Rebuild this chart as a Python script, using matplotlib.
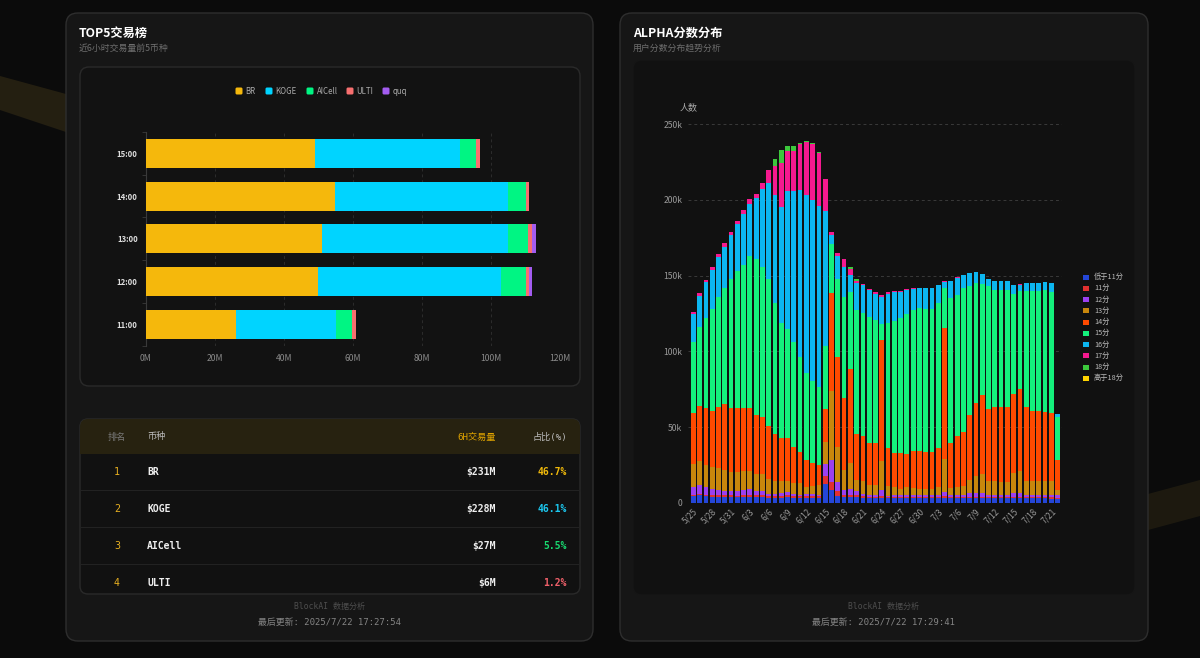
import numpy as np
import pandas as pd
import matplotlib
matplotlib.use("Agg")
import matplotlib.pyplot as plt
from matplotlib.patches import FancyBboxPatch, Rectangle, Polygon

plt.rcParams['font.family'] = ['Noto Sans CJK SC', 'DejaVu Sans']
MONO = ['DejaVu Sans Mono', 'Noto Sans CJK SC']

# ---- TOP5 data (M) ----
hours = ['11:00', '12:00', '13:00', '14:00', '15:00']
coins = ['BR', 'KOGE', 'AICell', 'ULTI', 'quq']
coin_colors = ['#f5b80c', '#00d4ff', '#00f583', '#f76f6f', '#a35cf0']
br = [26.0, 49.9, 50.9, 54.9, 49.0]
koge = [29.0, 53.0, 54.1, 50.1, 42.0]
aicell = [4.8, 7.2, 5.8, 5.1, 4.6]
ulti = [1.1, 0.8, 1.0, 0.8, 1.2]
quq = [0.0, 1.1, 1.2, 0.0, 0.0]
xticks_m = [0, 20, 40, 60, 80, 100, 120]

# ---- table ----
ranks = ['1', '2', '3', '4']
tbl_names = ['BR', 'KOGE', 'AICell', 'ULTI']
tbl_vol = ['$231M', '$228M', '$27M', '$6M']
tbl_pct = ['46.7%', '46.1%', '5.5%', '1.2%']
pct_colors = ['#f0b90b', '#1cc8f0', '#18d970', '#f0606a']

# ---- ALPHA score distribution (thousands of people) ----
dates = [f'{d.month}/{d.day}' for d in pd.date_range('2025-05-25', '2025-07-22')]
lt11 = [4.4, 5.0, 4.4, 4.0, 4.0, 3.8, 3.8, 3.8, 4.2, 4.2,
        3.8, 3.8, 3.5, 3.5, 3.5, 3.8, 3.5, 3.5, 3.5, 3.5,
        3.5, 12.5, 8.8, 4.8, 4.0, 4.0, 3.8, 3.5, 3.2, 3.2,
        3.5, 3.0, 3.0, 3.0, 3.0, 3.0, 3.0, 3.0, 3.0, 3.0,
        3.5, 3.0, 3.0, 3.0, 3.0, 3.0, 3.0, 3.0, 3.0, 3.0,
        3.0, 3.0, 3.0, 3.0, 3.0, 3.0, 3.0, 2.8, 2.5]
s11 = [1.1, 1.2, 1.2, 1.2, 1.2, 1.2, 1.2, 1.0, 1.2, 1.2,
       1.2, 1.2, 1.0, 1.0, 1.0, 1.2, 1.0, 1.0, 1.0, 1.0,
       1.0, 5.0, 5.2, 2.9, 1.5, 1.5, 1.2, 1.0, 1.0, 1.0,
       1.0, 1.0, 1.0, 1.0, 1.0, 1.0, 1.0, 1.0, 1.0, 1.0,
       1.0, 1.0, 1.0, 1.0, 1.0, 1.0, 1.0, 1.0, 1.0, 1.0,
       1.0, 1.0, 1.0, 1.0, 1.0, 1.0, 1.0, 1.0, 0.7]
s12 = [4.8, 5.6, 5.2, 4.0, 3.6, 2.7, 2.7, 2.9, 3.4, 3.8,
       2.7, 2.7, 1.7, 1.7, 2.1, 2.0, 1.7, 1.0, 1.7, 1.7,
       1.0, 8.5, 14.4, 5.9, 3.3, 4.0, 2.7, 1.7, 1.3, 1.3,
       4.3, 0.8, 1.0, 1.0, 1.0, 1.0, 1.0, 1.0, 1.0, 1.0,
       3.0, 1.0, 1.0, 1.5, 2.6, 2.6, 2.6, 1.5, 1.5, 1.5,
       1.5, 2.6, 2.6, 1.5, 1.5, 1.5, 1.5, 1.7, 1.8]
s13 = [15.7, 16.0, 14.2, 14.3, 14.0, 14.0, 12.9, 12.9, 12.2, 11.8,
       11.3, 11.1, 9.6, 8.1, 7.7, 7.7, 7.0, 7.7, 4.1, 4.8,
       6.5, 14.4, 45.2, 23.6, 13.0, 17.1, 7.7, 8.1, 6.5, 6.5,
       19.0, 6.2, 5.3, 4.5, 5.3, 4.9, 4.2, 4.5, 4.5, 5.3,
       21.5, 4.9, 5.3, 5.9, 8.8, 11.0, 12.5, 8.8, 8.8, 8.3,
       8.3, 13.2, 14.7, 8.8, 8.8, 8.8, 8.8, 8.8, 3.5]
s14 = [33.3, 36.2, 37.5, 37.5, 40.2, 43.8, 41.9, 41.9, 41.5, 41.5,
       39.0, 37.7, 35.2, 31.4, 28.7, 28.3, 23.8, 20.3, 18.2, 15.2,
       13.2, 21.5, 64.7, 59.3, 47.2, 61.7, 30.3, 29.7, 27.6, 27.6,
       79.7, 25.0, 22.5, 23.3, 22.1, 24.1, 24.8, 24.0, 24.0, 25.7,
       86.7, 29.7, 33.7, 35.6, 42.6, 48.1, 52.1, 47.5, 49.2, 49.4,
       49.8, 52.0, 53.6, 49.3, 46.7, 46.4, 45.9, 45.0, 20.0]
s15 = [46.7, 52.0, 59.5, 67.0, 73.0, 76.5, 85.5, 90.5, 94.5, 100.5,
       103.0, 99.0, 97.0, 86.3, 76.0, 72.0, 69.4, 62.8, 57.5, 54.6,
       51.5, 41.7, 32.7, 51.5, 67.0, 51.1, 81.3, 81.5, 83.4, 81.1,
       10.5, 82.9, 87.2, 89.0, 92.6, 93.0, 94.4, 94.5, 94.5, 95.7,
       26.3, 95.4, 93.0, 94.6, 85.0, 79.6, 73.4, 81.2, 77.0, 77.5,
       76.9, 65.9, 64.9, 76.4, 79.0, 79.3, 80.3, 80.2, 28.5]
s16 = [18.6, 20.6, 23.6, 26.0, 26.0, 27.0, 29.0, 31.0, 33.6, 34.3,
       40.0, 51.5, 63.0, 71.0, 76.5, 91.0, 99.6, 110.2, 117.0, 119.2,
       119.3, 89.2, 6.0, 15.0, 19.5, 11.2, 18.0, 18.0, 17.5, 17.3,
       18.0, 19.1, 19.0, 17.7, 15.5, 14.0, 13.1, 13.5, 13.5, 11.8,
       4.0, 11.2, 11.5, 8.6, 8.8, 7.2, 6.2, 4.8, 5.7, 5.5,
       5.7, 6.0, 4.3, 5.2, 5.2, 5.2, 5.4, 5.4, 1.6]
s17 = [1.6, 1.7, 1.7, 2.0, 2.0, 2.3, 2.0, 2.0, 2.4, 3.0,
       2.8, 3.8, 8.6, 19.3, 28.5, 26.4, 26.4, 30.5, 35.3, 37.0,
       35.0, 21.2, 1.5, 2.0, 5.5, 3.9, 1.5, 1.0, 0.8, 1.0,
       1.0, 1.0, 0.6, 0.5, 0.5, 0.5, 0.5, 0.5, 0.5, 0.5,
       0.5, 0.4, 0.3, 0.3, 0.2, 0.2, 0.2, 0.2, 0.2, 0.2,
       0.2, 0.2, 0.2, 0.2, 0.2, 0.2, 0.2, 0.2, 0.1]
s18 = [0, 0, 0, 0, 0, 0, 0, 0, 0, 0,
       0, 0, 0, 4.7, 8.8, 3.1, 3.1, 0.7, 0.7, 0.7,
       0.7, 0, 0.5, 0, 0, 1.5, 1.5, 0, 0, 0,
       0, 0, 0, 0, 0, 0, 0, 0, 0, 0,
       0, 0, 0, 0, 0, 0, 0, 0, 0, 0,
       0, 0, 0, 0, 0, 0, 0, 0, 0]
gt18 = [0] * 59
score_names = ['低于11分', '11分', '12分', '13分', '14分', '15分', '16分', '17分', '18分', '高于18分']
score_colors = ['#2446d8', '#e03030', '#9b40f0', '#c8870c', '#ff4a00',
                '#14f07c', '#0cb6f0', '#f5198f', '#3cc83c', '#ffd400']
score_series = [lt11, s11, s12, s13, s14, s15, s16, s17, s18, gt18]
for s in score_series:
    assert len(s) == len(dates), len(s)

fig = plt.figure(figsize=(12, 6.58), dpi=100, facecolor='#0b0b0b')

# background layer in pixel coordinates
bg = fig.add_axes([0, 0, 1, 1])
bg.set_xlim(0, 1200)
bg.set_ylim(658, 0)
bg.axis('off')
bg.add_patch(Polygon([(0, 76), (66, 94), (66, 132), (0, 110)], fc='#3a3016', ec='none', alpha=0.55))
bg.add_patch(Polygon([(1148, 494), (1200, 480), (1200, 516), (1148, 530)], fc='#2a2412', ec='none', alpha=0.6))

def card(x, y, w, h, r, fc, ec, lw=1.0):
    p = FancyBboxPatch((x, y), w, h, boxstyle=f'round,pad=0,rounding_size={r}',
                       fc=fc, ec=ec, lw=lw)
    bg.add_patch(p)
    return p

card(66, 13, 527, 628, 12, '#161616', '#2e2e2e')
card(620, 13, 528, 628, 12, '#161616', '#2e2e2e')
card(80, 67, 500, 319, 9, '#121212', '#2a2a2a')
card(633, 60, 502, 535, 9, '#111111', '#161616')

bg.text(79, 33, 'TOP5交易榜', color='white', fontsize=8.8, fontweight='bold', va='center')
bg.text(79, 48, '近6小时交易量前5币种', color='#6e6e6e', fontsize=6.4, va='center')
bg.text(633, 33, 'ALPHA分数分布', color='white', fontsize=8.8, fontweight='bold', va='center')
bg.text(633, 48, '用户分数分布趋势分析', color='#6e6e6e', fontsize=6.4, va='center')

# left legend
leg_x = [239, 269, 310, 350, 386]
for lx, name, c in zip(leg_x, coins, coin_colors):
    bg.add_patch(FancyBboxPatch((lx - 3.5, 87.5), 7, 7, boxstyle='round,pad=0,rounding_size=1.5',
                                fc=c, ec='none'))
    bg.text(lx + 6.5, 91, name, color='#aaaaaa', fontsize=5.7, va='center')

# table
tbl = card(80, 419, 500, 175, 8, '#111111', '#2a2a2a')
hdr = Rectangle((80, 419), 500, 35, fc='#272210', ec='none')
bg.add_patch(hdr)
hdr.set_clip_path(tbl)
for yy in [490, 527, 564]:
    bg.plot([81, 579], [yy, yy], color='#222222', lw=0.8)
bg.text(117, 437, '排名', color='#7a7a7a', fontsize=6.6, ha='center', va='center')
bg.text(147, 437, '币种', color='#bbbbbb', fontsize=6.6, va='center')
bg.text(496, 437, '6H交易量', color='#e0a400', fontsize=6.6, ha='right', va='center', family=MONO)
bg.text(567, 437, '占比(%)', color='#bbbbbb', fontsize=6.6, ha='right', va='center', family=MONO)
row_y = [472, 509, 546, 583]
for yy, rk, nm, vol, pc, pcc in zip(row_y, ranks, tbl_names, tbl_vol, tbl_pct, pct_colors):
    bg.text(117, yy, rk, color='#e8b020', fontsize=7.2, ha='center', va='center', family=MONO)
    bg.text(147, yy, nm, color='#eeeeee', fontsize=7.0, va='center', family=MONO, fontweight='bold')
    bg.text(496, yy, vol, color='#eeeeee', fontsize=7.0, ha='right', va='center', family=MONO, fontweight='bold')
    bg.text(567, yy, pc, color=pcc, fontsize=7.0, ha='right', va='center', family=MONO, fontweight='bold')

for cx, ts in [(330, '2025/7/22 17:27:54'), (884, '2025/7/22 17:29:41')]:
    bg.text(cx, 606, 'BlockAI 数据分析', color='#4e4e4e', fontsize=5.8, ha='center', va='center', family=MONO)
    bg.text(cx, 622, '最后更新: ' + ts, color='#858585', fontsize=6.4, ha='center', va='center', family=MONO)

# ---- left chart ----
ax1 = fig.add_axes([146 / 1200, 1 - 345.5 / 658, 414 / 1200, 213.5 / 658])
ax1.set_facecolor('none')
yy = np.arange(len(hours))
left = np.zeros(len(hours))
for vals, c in zip([br, koge, aicell, ulti, quq], coin_colors):
    ax1.barh(yy, vals, height=0.68, left=left, color=c, lw=0, zorder=3)
    left += np.array(vals)
ax1.set_xlim(0, 120)
ax1.set_ylim(-0.5, 4.5)
ax1.set_xticks(xticks_m)
ax1.set_xticklabels([f'{v}M' for v in xticks_m])
ax1.xaxis.grid(True, color='#2c2c2c', ls=(0, (3, 3)), lw=0.7)
ax1.set_axisbelow(True)
for sp in ['top', 'right', 'bottom']:
    ax1.spines[sp].set_visible(False)
ax1.spines['left'].set_color('#3a3a3a')
ax1.set_yticks(yy)
ax1.set_yticklabels(hours, fontweight='bold')
ax1.set_yticks(np.arange(-0.5, 5, 1), minor=True)
ax1.tick_params(axis='y', which='major', length=0, pad=6, labelcolor='#dddddd', labelsize=5.6)
ax1.tick_params(axis='y', which='minor', length=3, color='#3a3a3a')
ax1.tick_params(axis='x', length=0, pad=6, labelcolor='#8a8a8a', labelsize=6.2)

# ---- right chart ----
ax2 = fig.add_axes([688 / 1200, 1 - 503 / 658, 374 / 1200, 379 / 658])
ax2.set_facecolor('none')
xx = np.arange(len(dates))
bottom = np.zeros(len(dates))
for vals, c in zip(score_series, score_colors):
    ax2.bar(xx, vals, 0.76, bottom=bottom, color=c, lw=0, zorder=3)
    bottom += np.array(vals, dtype=float)
ax2.set_xlim(-0.85, 58.7)
ax2.set_ylim(0, 250)
yt = [0, 50, 100, 150, 200, 250]
ax2.set_yticks(yt)
ax2.set_yticklabels(['0'] + [f'{v}k' for v in yt[1:]])
ax2.yaxis.grid(True, color='#3a3a3a', ls=(0, (3, 3)), lw=0.7)
ax2.set_axisbelow(True)
for sp in ax2.spines.values():
    sp.set_visible(False)
ax2.set_xticks(xx[::3])
ax2.set_xticklabels(dates[::3], rotation=45, ha='right', rotation_mode='anchor')
ax2.tick_params(axis='y', length=0, pad=4, labelcolor='#999999', labelsize=6.2)
ax2.tick_params(axis='x', length=0, pad=3, labelcolor='#999999', labelsize=6.0)
bg.text(689, 108, '人数', color='#aaaaaa', fontsize=6.5, ha='center', va='center')

for i, (nm, c) in enumerate(zip(score_names, score_colors)):
    ly = 277 + i * 11.25
    bg.add_patch(Rectangle((1083, ly - 2.5), 6, 5, fc=c, ec='none'))
    bg.text(1094, ly, nm, color='#bbbbbb', fontsize=5.2, va='center')

fig.savefig('out.png', dpi=100, facecolor=fig.get_facecolor())
